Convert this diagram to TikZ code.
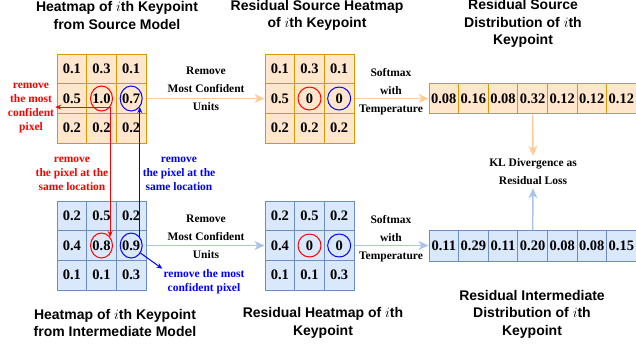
\documentclass[tikz,border=0pt]{standalone}
\usepackage{fontspec}
\setmainfont{Liberation Serif}
\newfontfamily\titlefont{Liberation Sans}
\usetikzlibrary{arrows.meta,shapes.geometric}
\definecolor{ofill}{HTML}{FFE6CC}
\definecolor{oline}{HTML}{D79B00}
\definecolor{bfill}{HTML}{DAE8FC}
\definecolor{bline}{HTML}{6C8EBF}
\definecolor{oarrow}{HTML}{FFCC99}
\definecolor{barrow}{HTML}{A9C4EB}
\tikzset{
  cellbase/.style={draw, line width=1pt, minimum width=29.67pt, minimum height=29.67pt, inner sep=0pt, font=\fontsize{14.5}{16}\selectfont\bfseries},
  ocell/.style={cellbase, fill=ofill, draw=oline},
  bcell/.style={cellbase, fill=bfill, draw=bline},
  odist/.style={ocell, minimum width=29.6pt, minimum height=30.5pt},
  bdist/.style={bcell, minimum width=29.6pt, minimum height=30.5pt},
  ring/.style={ellipse, draw, line width=1pt, minimum width=22pt, minimum height=25pt, inner sep=0pt},
  ringm/.style={circle, draw, line width=1pt, minimum size=23pt, inner sep=0pt},
  title/.style={align=center, font=\titlefont\bfseries\fontsize{14}{17.5}\selectfont, inner sep=0pt},
  lbl/.style={align=center, font=\bfseries\fontsize{11.5}{18}\selectfont, inner sep=0pt},
  ann/.style={align=center, font=\bfseries\fontsize{11.5}{13.7}\selectfont, inner sep=1pt},
  oarr/.style={draw=oarrow, line width=1.5pt, -{Stealth[length=10pt,width=9pt,inset=3pt]}},
  barr/.style={draw=barrow, line width=1.5pt, -{Stealth[length=10pt,width=9pt,inset=3pt]}},
  rarr/.style={draw=red, line width=1pt, -{Stealth[length=6pt,width=5pt,inset=2pt]}},
  blarr/.style={draw=blue, line width=1pt, -{Stealth[length=6pt,width=5pt,inset=2pt]}},
}
\begin{document}
\begin{tikzpicture}[x=1pt,y=-1pt]
\useasboundingbox (0,0) rectangle (636,349);
% grids
\foreach \v [count=\k from 0] in {0.1,0.3,0.1,0.5,1.0,0.7,0.2,0.2,0.2}{
  \pgfmathtruncatemacro\gr{int(\k/3)}\pgfmathtruncatemacro\gc{mod(\k,3)}
  \node[ocell] (sa\k) at ({57+29.67*(\gc+0.5)},{54+29.67*(\gr+0.5)}) {\v};
}
\foreach \v [count=\k from 0] in {0.1,0.3,0.1,0.5,0,0,0.2,0.2,0.2}{
  \pgfmathtruncatemacro\gr{int(\k/3)}\pgfmathtruncatemacro\gc{mod(\k,3)}
  \node[ocell] (ra\k) at ({265+29.67*(\gc+0.5)},{54+29.67*(\gr+0.5)}) {\v};
}
\foreach \v [count=\k from 0] in {0.2,0.5,0.2,0.4,0.8,0.9,0.1,0.1,0.3}{
  \pgfmathtruncatemacro\gr{int(\k/3)}\pgfmathtruncatemacro\gc{mod(\k,3)}
  \node[bcell] (ia\k) at ({57+29.67*(\gc+0.5)},{201+29.67*(\gr+0.5)}) {\v};
}
\foreach \v [count=\k from 0] in {0.2,0.5,0.2,0.4,0,0,0.1,0.1,0.3}{
  \pgfmathtruncatemacro\gr{int(\k/3)}\pgfmathtruncatemacro\gc{mod(\k,3)}
  \node[bcell] (rb\k) at ({265+29.67*(\gc+0.5)},{201+29.67*(\gr+0.5)}) {\v};
}
% distributions
\foreach \v [count=\k from 0] in {0.08,0.16,0.08,0.32,0.12,0.12,0.12}{
  \node[odist] (sd\k) at ({429+29.6*(\k+0.5)},98.5) {\v};
}
\foreach \v [count=\k from 0] in {0.11,0.29,0.11,0.20,0.08,0.08,0.15}{
  \node[bdist] (id\k) at ({429+29.6*(\k+0.5)},246) {\v};
}
% rings
\node[ring, draw=red] (cR1) at (sa4.center) {};
\node[ring, draw=blue] (cB1) at (sa5.center) {};
\node[ring, draw=red] (cR2) at (ia4.center) {};
\node[ring, draw=blue] (cB2) at (ia5.center) {};
\node[ringm, draw=red] (cR3) at (ra4.center) {};
\node[ringm, draw=blue] (cB3) at (ra5.center) {};
\node[ringm, draw=red] (cR4) at (rb4.center) {};
\node[ringm, draw=blue] (cB4) at (rb5.center) {};
% titles
\node[title] (t1) at (117,15.5) {Heatmap of $i$th Keypoint\\from Source Model};
\node[title] (t2) at (317,15.5) {Residual Source Heatmap\\of $i$th Keypoint};
\node[title] (t3) at (523,23.5) {Residual Source\\Distribution of $i$th\\Keypoint};
\node[title] (t4) at (115,323) {Heatmap of $i$th Keypoint\\from Intermediate Model};
\node[title] (t5) at (323,323) {Residual Heatmap of $i$th\\Keypoint};
\node[title] (t6) at (532,314) {Residual Intermediate\\Distribution of $i$th\\Keypoint};
% labels
\node[lbl] (rm1) at (206,89) {Remove\\Most Confident\\Units};
\node[lbl] (rm2) at (206,236.5) {Remove\\Most Confident\\Units};
\node[lbl] (sm1) at (391,92) {Softmax\\with\\Temperature};
\node[lbl] (sm2) at (391,239) {Softmax\\with\\Temperature};
\node[lbl, inner sep=3pt] (kl) at (533,172) {KL Divergence as\\Residual Loss};
% annotations
\node[ann, text=red] (an1) at (31,108) {remove\\the most\\confident\\pixel};
\node[ann, text=red] (an2) at (72,174) {remove\\the pixel at the\\same location};
\node[ann, text=blue] (an3) at (179,174) {remove\\the pixel at the\\same location};
\node[ann, text=blue] (an4) at (204,282) {remove the most\\confident pixel};
% connectors
\draw[oarr] (sa5.east) -- (ra3.west);
\draw[barr] (ia5.east) -- (rb3.west);
\draw[oarr] (ra5.east) -- (ra5.east -| sd0.west);
\draw[barr] (rb5.east) -- (rb5.east -| id0.west);
\draw[oarr] (sd3.south) -- (kl.north);
\draw[barr] (id3.north) -- (kl.south);
\draw[rarr] (cR1.-45) -- (cR2.45);
\draw[rarr] (cR1.-45) -- (cR1.-45 -| an1.east);
\draw[blarr] (cB2.45) -- (cB1.-45);
\draw[blarr] (cB2.-39) -- (an4.north west);
\end{tikzpicture}
\end{document}
